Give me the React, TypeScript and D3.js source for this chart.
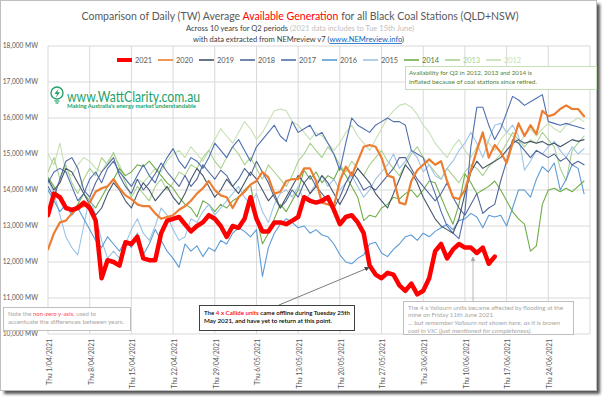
import React from 'react';
import * as d3 from 'd3';

// Q2 daily average available generation, black coal QLD+NSW (MW), day 0 = 1 April
const years = ['2021', '2020', '2019', '2018', '2017', '2016', '2015', '2014', '2013', '2012'];

const y2021 = [
  13300, 13900, 13800, 13500, 13450, 13500, 13650,
  13500, 13150, 11550, 12050, 12000, 11900, 12550,
  12500, 12700, 12100, 12050, 12050, 12800, 13150,
  13200, 13250, 13050, 12850, 13000, 13100, 13300,
  13200, 13000, 12700, 13000, 12950, 13200, 13800,
  13200, 12850, 12850, 13100, 13100, 13050, 13150,
  13250, 13800, 13700, 13650, 13700, 13800, 13450,
  13050, 13250, 13300, 13100, 12800, 11900, 11650,
  11550, 11700, 11650, 11350, 11200, 11400, 11100,
  11200, 11550, 12300, 12500, 12100, 12350, 12500,
  12400, 12400, 12250, 12400, 11950, 12150,
];
const y2020 = [
  12350, 12800, 13100, 13150, 13350, 13500, 13550,
  13650, 13950, 14050, 14100, 14300, 14050, 13850,
  13750, 13600, 13550, 13550, 13350, 13200, 13250,
  13300, 13450, 13550, 13700, 13900, 14050, 14250,
  14000, 13850, 13800, 13500, 13800, 13950, 14150,
  14250, 14500, 14350, 13900, 13950, 14250, 14300,
  14300, 14600, 14600, 14250, 13650, 13600, 13550,
  14250, 14650, 14400, 14800, 15200, 15250, 15200,
  14900, 14400, 14350, 13650, 13600, 14250, 14550,
  14700, 14850, 14700, 14800, 14250, 13800, 13750,
  14000, 14550, 15100, 15600, 14900, 15250, 15050,
  14750, 15300, 15850, 15500, 15800, 15550, 16200,
  16050, 16100, 16250, 16350, 16250, 16250, 16050,
];
const y2019 = [
  14300, 14000, 14200, 14600, 14500, 14200, 13900,
  13600, 13300, 13500, 13900, 14200, 14000, 13700,
  13500, 13900, 14200, 14000, 13700, 13900, 14100,
  13800, 13600, 13900, 14300, 14600, 14400, 14100,
  13800, 14000, 14300, 14100, 13900, 14200, 14500,
  14300, 14000, 13700, 13900, 13500, 13800, 14100,
  14400, 14200, 13900, 14100, 14400, 14200, 13900,
  13600, 13900, 14300, 14600, 14400, 14200, 13900,
  13700, 13500, 13900, 14300, 14700, 14500, 14200,
  13800, 13500, 13200, 13000, 12900, 12800, 13200,
  13900, 14500, 14800, 14600, 14700, 14800, 14900,
  15100, 15300, 15400, 15300, 15350, 15300, 15350,
  15250, 15300, 15200, 15300, 15400, 15350, 15400,
];
const y2018 = [
  14100, 13800, 14300, 14800, 14900, 14600, 14000,
  13800, 14200, 14500, 14700, 14900, 14400, 14100,
  13900, 14300, 14000, 14200, 14450, 14750, 14500,
  14300, 14100, 14400, 14100, 14300, 14700, 14500,
  14300, 14550, 14400, 14100, 14300, 14600, 14400,
  14800, 14500, 14200, 13800, 13500, 13700, 14000,
  13800, 14200, 14400, 14100, 13900, 13700, 13500,
  13800, 14200, 14500, 14300, 14000, 14100, 14000,
  14200, 14400, 14600, 14900, 14900, 14600, 14300,
  14100, 13900, 13700, 13900, 14200, 13800, 13500,
  13300, 13600, 13900, 13350, 13500, 13600, 14250,
  14800, 15400, 15300, 15100, 14900, 15100, 15000,
  14900, 15000, 14800, 14900, 14700, 14800, 14700,
];
const y2017 = [
  14200, 14500, 14600, 14500, 14100, 13700, 13900,
  14300, 14500, 14200, 14600, 14800, 14500, 14300,
  14100, 14400, 14700, 14400, 14200, 14600, 14900,
  15150, 14800, 14600, 14900, 14800, 14600, 14900,
  15300, 15100, 14900, 15200, 15400, 15100, 14800,
  15200, 15400, 15600, 15800, 15500, 15350, 15900,
  15600, 15700, 15800, 15500, 15600, 15300, 15000,
  14550, 15300, 16000, 15800, 15700, 15600, 15800,
  15900, 16000, 15900, 15900, 15800, 15100, 15000,
  14900, 14350, 13900, 13400, 13000, 12800, 12650,
  13400, 15200, 16300, 16300, 15800, 15400, 15700,
  16150, 16600, 16500, 16350, 16450, 16550, 16650,
  15900, 15850, 15800, 15850, 15800, 15750, 15700,
];
const y2016 = [
  14000, 13700, 13400, 13600, 13300, 13500, 13200,
  12900, 12600, 12400, 12700, 12500, 12300, 12600,
  12400, 12800, 12200, 12500, 12900, 12600, 12300,
  12100, 11850, 12500, 12300, 12450, 12150, 12400,
  12300, 12600, 12500, 12800, 12950, 12850, 12700,
  12900, 11600, 12400, 12800, 13050, 13200, 13100,
  12950, 13000, 12800, 12900, 12750, 12700, 12500,
  12200, 12000, 11950, 12100, 12200, 12500, 12550,
  12250, 12150, 12350, 12500, 12700, 12750, 12600,
  12800, 12700, 12850, 12950, 13050, 12900, 13150,
  13200, 13350, 13250, 12950, 13300, 13250, 13300,
  13000, 13500, 14000, 14000, 13800, 14300, 14650,
  14500, 14750, 14000, 14300, 14700, 14600, 13900,
];
const y2015 = [
  14300, 13900, 13300, 12700, 12400, 12200, 13000,
  13800, 13300, 12600, 12100, 12300, 12100, 12500,
  12900, 13200, 12800, 12600, 13000, 13500, 13300,
  12900, 12600, 12700, 13200, 13100, 13400, 13600,
  13300, 13500, 13700, 13900, 14100, 13800, 13600,
  13900, 13400, 13100, 13600, 13900, 14000, 13800,
  14100, 13700, 13900, 14200, 14400, 14100, 14300,
  14000, 14200, 14400, 14100, 13800, 14000, 14300,
  14500, 14700, 15000, 14600, 14800, 15100, 14900,
  14500, 14700, 14400, 14300, 14600, 14800, 15100,
  15300, 15600, 15300, 14900, 15400, 15800, 15850,
  15600, 15800, 15500, 14550, 14800, 15100, 15000,
  15200, 15350, 15100, 14900, 15200, 15000, 15150,
];
const y2014 = [
  14350, 14100, 13700, 13500, 13400, 13600, 13900,
  13700, 13500, 13800, 14100, 14300, 14600, 14400,
  14500, 14700, 14650, 14800, 14600, 14400, 14200,
  14050, 13800, 13600, 13500, 13250, 13700, 13600,
  13400, 13600, 13500, 13700, 13800, 14000, 14150,
  13250, 12500, 12800, 13200, 13600, 13400, 13700,
  14000, 14550, 14300, 14500, 14200, 14400, 14300,
  14650, 14400, 14100, 13800, 13150, 13300, 13250,
  13500, 13600, 13800, 13750, 13900, 14000, 13800,
  14000, 14250, 14200, 13800, 13400, 13050, 13600,
  14450, 14200, 13900, 14000, 14100, 14250, 14000,
  13700, 13400, 13200, 13050, 12300, 12450, 13600,
  14000, 14050, 13950, 14050, 13950, 14100, 14250,
];
const y2013 = [
  14500, 14900, 14300, 14700, 14200, 13900, 14300,
  14600, 14400, 14900, 14700, 15050, 14600, 14200,
  13800, 14100, 13900, 13700, 14100, 14300, 14000,
  14200, 14500, 14400, 14700, 14600, 14900, 15100,
  14800, 14600, 14900, 15200, 15000, 14700, 14900,
  14600, 14300, 14700, 14500, 14300, 14100, 14400,
  14800, 15000, 15300, 15100, 14900, 15200, 15000,
  14700, 14500, 14800, 14600, 14400, 14700, 14900,
  15100, 14800, 14600, 14400, 14700, 15000, 15200,
  14900, 14700, 14500, 14300, 14600, 14400, 14200,
  14500, 14700, 14600, 14400, 14650, 14800, 15000,
  15300, 15600, 15400, 15200, 15400, 15300, 15600,
  15400, 15200, 14600, 14250, 15100, 15300, 15500,
];
const y2012 = [
  15000, 14700, 15300, 14500, 14400, 14700, 14900,
  14800, 14600, 14500, 14800, 15000, 14700, 14300,
  14100, 14300, 14200, 14400, 14600, 14500, 14800,
  15000, 15100, 14900, 15200, 15000, 14800, 15100,
  15400, 15700, 15500, 15300, 15600, 15900, 15700,
  15400, 15600, 15900, 16200, 16250, 16200, 15900,
  15800, 15600, 15400, 15600, 15500, 15300, 15100,
  15300, 15600, 15800, 15500, 15300, 15100, 15400,
  15700, 16000, 16200, 16350, 16400, 16300, 16100,
  15800, 15600, 15300, 15100, 14900, 15200, 15400,
  15100, 14900, 15200, 15500, 15300, 15100, 15400,
  15600, 15500, 15300, 15500, 15700, 15500, 15700,
  15850, 15700, 15600, 15800, 15900, 16000, 15900,
];

const seriesValues = [y2021, y2020, y2019, y2018, y2017, y2016, y2015, y2014, y2013, y2012];
const seriesColors = ['#FF0000', '#ED7D31', '#44546A', '#51689A', '#4F6FB0', '#5B9BD5', '#9DC3E6', '#70AD47', '#A9D18E', '#C5E0B4'];
const legendText = ['#595959', '#595959', '#595959', '#595959', '#595959', '#595959', '#595959', '#548235', '#A9D18E', '#C5E0B4'];

const W = 604;
const H = 397;
const FONT = "Lato, 'Open Sans', sans-serif";

export default function App() {
  const start = new Date(2021, 3, 1);
  const end = new Date(2021, 6, 1);
  const x = d3.scaleTime().domain([start, end]).range([48, 590]);
  const y = d3.scaleLinear().domain([10000, 18000]).range([334, 46]);
  const thursdays = d3.timeThursday.range(start, d3.timeDay.offset(end, 1));
  const yTicks = y.ticks(8);
  const fmtDate = d3.timeFormat('Thu %-d/%m/%Y');
  const fmtY = d3.format(',');

  const line = d3
    .line<number>()
    .x((_, i) => x(d3.timeDay.offset(start, i)))
    .y((d) => y(d));

  const widths = [4.5, 2.2, 1.1, 1.1, 1.1, 1.1, 1.1, 1.1, 1.1, 1.1];
  const drawOrder = d3.range(years.length).reverse();

  return (
    <svg width={W} height={H} style={{ position: 'absolute', left: 0, top: 0, fontFamily: FONT }}>
      <defs>
        <filter id="shadow" x="-5%" y="-5%" width="110%" height="110%">
          <feGaussianBlur stdDeviation="1.5" />
        </filter>
        <marker id="arrowDark" viewBox="0 0 10 10" refX="9" refY="5" markerWidth="6" markerHeight="6" orient="auto">
          <path d="M0,0 L10,5 L0,10 Z" fill="#404040" />
        </marker>
        <marker id="arrowGrey" viewBox="0 0 10 10" refX="9" refY="5" markerWidth="6" markerHeight="6" orient="auto">
          <path d="M0,0 L10,5 L0,10 Z" fill="#A6A6A6" />
        </marker>
        <clipPath id="plot">
          <rect x={48} y={40} width={542} height={300} />
        </clipPath>
      </defs>

      {/* frame with drop shadow */}
      <rect x={4} y={4} width={596} height={390} fill="#555" filter="url(#shadow)" />
      <rect x={0.5} y={0.5} width={596} height={390} fill="#fff" stroke="#BFBFBF" />

      {/* titles */}
      <text x={300} y={19.5} textAnchor="middle" fontSize={11.5} fill="#595959" textLength={437} lengthAdjust="spacingAndGlyphs">
        Comparison of Daily (TW) Average <tspan fill="#FF0000">Available Generation</tspan> for all Black Coal Stations (QLD+NSW)
      </text>
      <text x={300} y={30.5} textAnchor="middle" fontSize={7.6} fill="#404040" textLength={228} lengthAdjust="spacingAndGlyphs">
        Across 10 years for Q2 periods <tspan fill="#BFBFBF">(2021 data includes to Tue 15th June)</tspan>
      </text>
      <text x={298.5} y={42} textAnchor="middle" fontSize={7.8} fill="#404040" textLength={211} lengthAdjust="spacingAndGlyphs">
        with data extracted from NEMreview v7 (<tspan fill="#0563C1" textDecoration="underline">www.NEMreview.info</tspan>)
      </text>

      {/* gridlines */}
      <g stroke="#D9D9D9" strokeWidth={1}>
        {yTicks.map((t) => (
          <line key={'h' + t} x1={48} x2={590} y1={y(t)} y2={y(t)} />
        ))}
        {thursdays.map((d) => (
          <line key={'v' + +d} x1={x(d)} x2={x(d)} y1={46} y2={334} />
        ))}
      </g>

      {/* y labels */}
      <g fontSize={6.6} fill="#595959" textAnchor="end">
        {yTicks.map((t) => (
          <text key={'yl' + t} x={38} y={y(t)} dy="0.35em">
            {fmtY(t)} MW
          </text>
        ))}
      </g>

      {/* x labels */}
      <g fontSize={6.6} fill="#595959" textAnchor="end">
        {thursdays
          .filter((d) => d < end)
          .map((d) => (
            <text key={'xl' + +d} transform={`translate(${x(d) + 1.5},339) rotate(-90)`} dy="0.35em">
              {fmtDate(d)}
            </text>
          ))}
      </g>

      {/* series */}
      <g clipPath="url(#plot)" fill="none" strokeLinejoin="round" strokeLinecap="round">
        {drawOrder.map((i) => (
          <path key={years[i]} d={line(seriesValues[i]) || ''} stroke={seriesColors[i]} strokeWidth={widths[i]} />
        ))}
      </g>

      {/* legend */}
      <g fontSize={7.4}>
        {years.map((yr, i) => {
          const tx = 135 + i * 41;
          return (
            <g key={'lg' + yr}>
              <line x1={tx - 18} x2={tx - 3} y1={60} y2={60} stroke={seriesColors[i]} strokeWidth={i === 0 ? 4 : 1.6} />
              <text x={tx} y={60} dy="0.35em" fill={legendText[i]}>
                {yr}
              </text>
            </g>
          );
        })}
      </g>

      {/* logo */}
      <g>
        <circle cx={57} cy={93} r={6} fill="none" stroke="#23A36B" strokeWidth={1.4} />
        <path d="M58.5,88.5 L54.5,94 L57.2,94 L55.5,98 L60,92.2 L57.3,92.2 Z" fill="#23A36B" />
        <line x1={54.5} x2={59.5} y1={101} y2={101} stroke="#23A36B" strokeWidth={1.2} />
        <line x1={55.5} x2={58.5} y1={103} y2={103} stroke="#23A36B" strokeWidth={1.2} />
        <text x={67} y={101.5} fontSize={15} fill="#23A36B" textLength={133} lengthAdjust="spacingAndGlyphs">
          www.WattClarity.com.au
        </text>
        <text x={67} y={108} fontSize={5} fontWeight="bold" fill="#23A36B" textLength={129} lengthAdjust="spacingAndGlyphs">
          Making Australia's energy market understandable
        </text>
      </g>

      {/* note: retired stations */}
      <rect x={405.5} y={66.5} width={191} height={23} fill="#fff" stroke="#C5E0B4" />
      <g fontSize={6} fill="#548235">
        <text x={409} y={73} dy="0.35em" textLength={123} lengthAdjust="spacingAndGlyphs">
          Availability for Q2 in 2012, 2013 and 2014 is
        </text>
        <text x={409} y={81.5} dy="0.35em" textLength={128} lengthAdjust="spacingAndGlyphs">
          inflated because of coal stations since retired.
        </text>
      </g>

      {/* note: y-axis */}
      <rect x={3.5} y={307.5} width={127} height={23} fill="#fff" stroke="#BFBFBF" />
      <g fontSize={6} fill="#A6A6A6">
        <text x={8} y={313.5} dy="0.35em" textLength={88} lengthAdjust="spacingAndGlyphs">
          Note the <tspan fill="#FF4B4B">non-zero y-axis</tspan>, used to
        </text>
        <text x={8} y={322} dy="0.35em" textLength={116} lengthAdjust="spacingAndGlyphs">
          accentuate the differences between years.
        </text>
      </g>

      {/* Callide annotation */}
      <line x1={279} y1={305} x2={369} y2={267.5} stroke="#595959" strokeWidth={0.8} markerEnd="url(#arrowDark)" />
      <rect x={199.5} y={305.5} width={155} height={25} fill="#fff" stroke="#404040" />
      <g fontSize={6} fill="#000" fontWeight={600}>
        <text x={204} y={312.5} dy="0.35em" textLength={146} lengthAdjust="spacingAndGlyphs">
          The <tspan fill="#FF0000">4 x Callide units</tspan> came offline during Tuesday 25th
        </text>
        <text x={204} y={321} dy="0.35em" textLength={128} lengthAdjust="spacingAndGlyphs">
          May 2021, and have yet to return at this point.
        </text>
      </g>

      {/* Yallourn annotation */}
      <line x1={473} y1={301} x2={473} y2={257} stroke="#A6A6A6" strokeWidth={0.8} markerEnd="url(#arrowGrey)" />
      <rect x={403.5} y={301.5} width={170} height={33} fill="#fff" stroke="#BFBFBF" />
      <g fontSize={5.8} fill="#A6A6A6">
        <text x={408} y={307.5} dy="0.35em" textLength={155} lengthAdjust="spacingAndGlyphs">
          The 4 x Yallourn units became affected by flooding at the
        </text>
        <text x={408} y={314.5} dy="0.35em" textLength={85} lengthAdjust="spacingAndGlyphs">
          mine on Friday 11th June 2021
        </text>
        <text x={408} y={323} dy="0.35em" fontStyle="italic" textLength={152} lengthAdjust="spacingAndGlyphs">
          ... but remember Yallourn not shown here, as it is brown
        </text>
        <text x={408} y={330.5} dy="0.35em" fontStyle="italic" textLength={124} lengthAdjust="spacingAndGlyphs">
          coal in VIC (just mentioned for completeness).
        </text>
      </g>
    </svg>
  );
}
